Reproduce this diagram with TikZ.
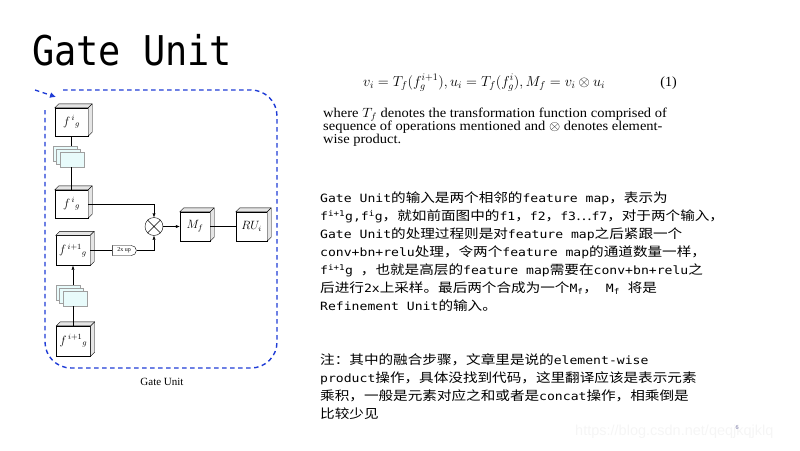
\documentclass[tikz,border=0pt]{standalone}
\usepackage{fontspec}
\usepackage{graphicx}
\setmainfont{Liberation Serif}
\newfontfamily\zhfont{Noto Sans CJK SC}
\newfontfamily\enmono{DejaVu Sans Mono}
\newfontfamily\wmfont{Liberation Sans}
\usetikzlibrary{shapes.misc,arrows.meta}
\definecolor{frameblue}{HTML}{1F3CD6}
\definecolor{fmfill}{HTML}{E8FBFB}
\newcommand\en[1]{{\enmono\fontsize{13.1}{18}\selectfont #1}}
\newcommand\sqz[1]{\scalebox{1}[0.87]{#1}}
\begin{document}
\begin{tikzpicture}[x=1pt,y=-1pt,
  blk/.style={draw, fill=white, inner sep=0pt, minimum width=33pt, minimum height=28pt, font=\fontsize{12}{13}\selectfont},
  fm/.style={draw=gray!75, fill=fmfill, inner sep=0pt, minimum width=24pt, minimum height=15pt},
  arr/.style={-{Latex[length=4pt,width=3.2pt]}},
  zh/.style={anchor=base west, inner sep=0pt, font=\zhfont\fontsize{14.6}{18}\selectfont},
  pap/.style={anchor=base west, inner sep=0pt, font=\fontsize{14.5}{16}\selectfont}]
\useasboundingbox (0,0) rectangle (800,450);
% title
\node[anchor=base west, inner sep=0pt, font=\enmono\fontsize{41}{41}\selectfont] (title) at (32,65) {\scalebox{0.9}[1]{Gate Unit}};
% frame
\draw[frameblue, line width=1.4pt, dash pattern=on 4.5pt off 3.5pt, rounded corners=26] (63,90) -- (277,90) -- (277,368) -- (45,368) -- (45,110);
\coordinate (fa) at (35,90);
\coordinate (fb) at (56,97);
\draw[frameblue, line width=1.4pt, dash pattern=on 4.5pt off 3.5pt, -{Latex[length=6pt,width=6pt]}] (fa) -- (fb);
% blocks
\node[blk] (A) at (71.5,122) {$f^{\,i}{}_{g}$};
\node[blk] (B) at (71.5,204) {$f^{\,i}{}_{g}$};
\node[blk, minimum width=34pt, minimum height=30pt] (C) at (73,250.5) {$f^{\,i+1}{}_{g}$};
\node[blk, minimum width=34pt, minimum height=30pt] (D) at (73.5,341) {$f^{\,i+1}{}_{g}$};
\node[blk, minimum width=30pt, minimum height=29pt] (M) at (195,226.5) {$M_f$};
\node[blk, minimum width=31pt, minimum height=29pt] (R) at (251.5,226.5) {$RU_i$};
\foreach \n in {A,B,C,D,M,R}{
  \draw[fill=gray!20] (\n.north west) -- ++(4,-4) -- ([shift={(4,-4)}]\n.north east) -- ([shift={(4,-4)}]\n.south east) -- (\n.south east) -- (\n.north east) -- cycle;
  \draw (\n.north east) -- ++(4,-4);
}
% feature map stacks
\node[fm] (s1c) at (65,153.5) {};
\node[fm] (s1b) at (68.5,156.5) {};
\node[fm] (s1) at (72,159.5) {};
\node[fm] (s2c) at (68,292.5) {};
\node[fm] (s2b) at (71.5,295.5) {};
\node[fm] (s2) at (75,298.5) {};
% product and upsampling
\node[circle, draw, fill=white, minimum size=18pt, inner sep=0pt] (X) at (154,226.5) {};
\draw (X.north west) -- (X.south east) (X.north east) -- (X.south west);
\node[draw, fill=white, rounded rectangle, rounded rectangle west arc=none, minimum width=26pt, minimum height=10pt, inner sep=1pt, font=\fontsize{6}{7}\selectfont] (U) at (124,250.5) {2x up};
% connectors
\draw (A.south) -- (A.south |- s1c.north);
\draw (B.north |- s1.south) -- (B.north);
\draw (D.north) -- (D.north |- s2.south);
\draw[arr] (C.south |- s2c.north) -- (C.south);
\draw[arr] (B.east) -| (X.north);
\draw (C.east |- U.west) -- (U.west);
\draw[arr] (U.east) -| (X.south);
\draw[arr] (X.east) -- (M.west);
\draw (M.east) -- (R.west);
\node[font=\fontsize{11}{12}\selectfont, inner sep=0pt] (cap) at (162,382) {Gate Unit};
% paper excerpt
\node[anchor=west, inner sep=0pt, font=\fontsize{14.3}{16}\selectfont] (eq) at (363,83) {$v_i = T_f(f_g^{i+1}), u_i = T_f(f_g^i), M_f = v_i \otimes u_i$};
\node[anchor=east, inner sep=0pt, font=\fontsize{14}{16}\selectfont] (eqn) at (677,83) {(1)};
\node[pap] (p1) at (323,117.5) {\scalebox{1}[0.93]{where $T_f$ denotes the transformation function comprised of}};
\node[pap] (p2) at (323,130.5) {\scalebox{1}[0.93]{sequence of operations mentioned and $\otimes$ denotes element-}};
\node[pap] (p3) at (323,143.5) {\scalebox{1}[0.93]{wise product.}};
% chinese notes
\node[zh] (l1) at (320,202.5) {\sqz{\en{Gate Unit}的输入是两个相邻的\en{feature map}，表示为}};
\node[zh] (l2) at (320,220.5) {\sqz{\en{f\textsuperscript{i+1}g,f\textsuperscript{i}g}，就如前面图中的\en{f1}，\en{f2}，\en{f3}…\en{f7}，对于两个输入，}};
\node[zh] (l3) at (320,238.5) {\sqz{\en{Gate Unit}的处理过程则是对\en{feature map}之后紧跟一个}};
\node[zh] (l4) at (320,256.5) {\sqz{\en{conv+bn+relu}处理，令两个\en{feature map}的通道数量一样，}};
\node[zh] (l5) at (320,274.5) {\sqz{\en{f\textsuperscript{i+1}g }，也就是高层的\en{feature map}需要在\en{conv+bn+relu}之}};
\node[zh] (l6) at (320,292.5) {\sqz{后进行\en{2x}上采样。最后两个合成为一个\en{M\textsubscript{f}}，\en{ M\textsubscript{f} }将是}};
\node[zh] (l7) at (320,310.5) {\sqz{\en{Refinement Unit}的输入。}};
\node[zh] (n1) at (320,364.5) {\sqz{注：其中的融合步骤，文章里是说的\en{element-wise}}};
\node[zh] (n2) at (320,382.5) {\sqz{\en{product}操作，具体没找到代码，这里翻译应该是表示元素}};
\node[zh] (n3) at (320,400.5) {\sqz{乘积，一般是元素对应之和或者是\en{concat}操作，相乘倒是}};
\node[zh] (n4) at (320,418.5) {\sqz{比较少见}};
% watermark and page number
\node[anchor=west, inner sep=0pt, text=gray!8, font=\wmfont\fontsize{14.5}{15}\selectfont] (wm) at (575,432) {https://blog.csdn.net/qeqjkqjklq};
\node[inner sep=0pt, text=gray!80!blue, font=\fontsize{6}{6}\selectfont] (pg) at (737,428) {6};
\end{tikzpicture}
\end{document}
